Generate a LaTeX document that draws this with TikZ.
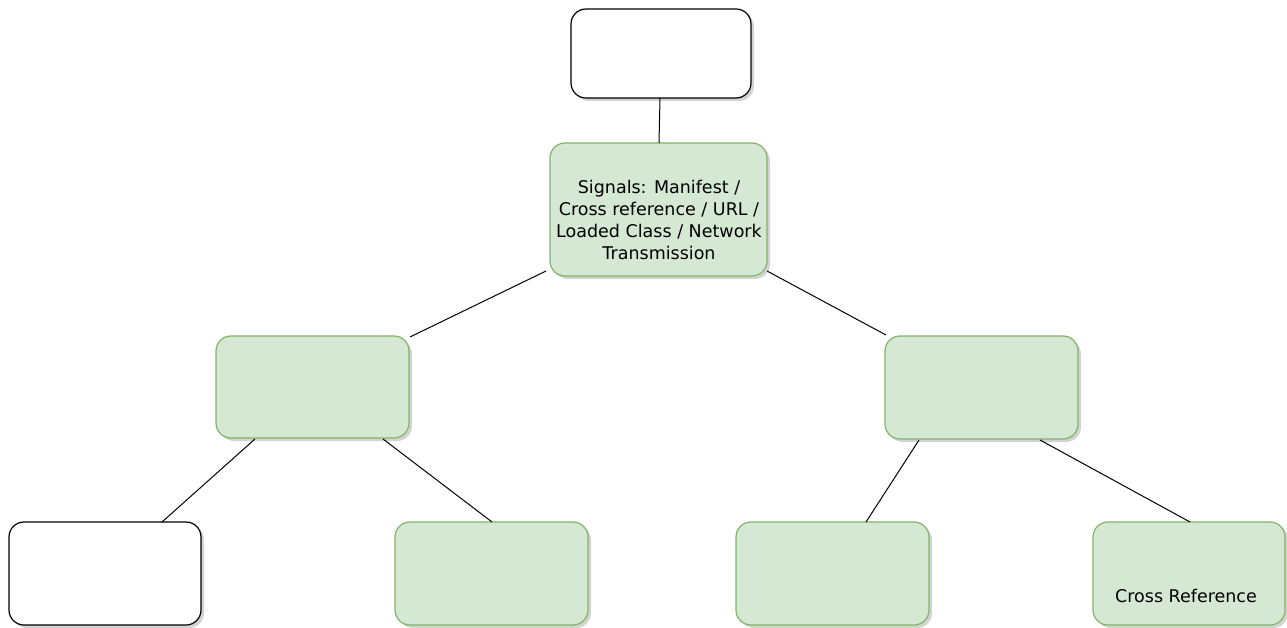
\documentclass[tikz,border=0pt]{standalone}
\usepackage{fontspec}
\setmainfont{DejaVu Sans}
\usetikzlibrary{shadows}
\definecolor{gfill}{HTML}{D5E8D4}
\definecolor{gline}{HTML}{82B366}
\begin{document}
\begin{tikzpicture}[x=1pt,y=-1pt,
  box/.style={rounded corners=15pt,line width=1.2pt,drop shadow={shadow xshift=3pt,shadow yshift=-3pt,opacity=0.35,fill=black!50}},
  wbox/.style={box,draw=black,fill=white},
  gbox/.style={box,draw=gline,fill=gfill},
  conn/.style={line width=1pt,black},
  lbl/.style={font=\fontsize{17.5pt}{22.3pt}\selectfont,align=center,inner sep=0pt}]
\useasboundingbox (0,0) rectangle (1287,628);
\draw[wbox] (571,9) rectangle (751,98);
\draw[gbox] (550,143) rectangle (767,276);
\draw[gbox] (216,336) rectangle (409,438);
\draw[gbox] (885,336) rectangle (1078,439);
\draw[wbox] (9,522) rectangle (201,625);
\draw[gbox] (395,522) rectangle (588,625);
\draw[gbox] (736,522) rectangle (929,625);
\draw[gbox] (1093,522) rectangle (1285,625);
\coordinate (t) at (660,98); \coordinate (cT) at (659,143);
\coordinate (cL) at (546,271); \coordinate (lT) at (410,337);
\coordinate (cR) at (767,271); \coordinate (rT) at (886,335);
\coordinate (lB1) at (255,439); \coordinate (b1) at (162,522);
\coordinate (lB2) at (383,439); \coordinate (b2) at (492,522);
\coordinate (rB1) at (919,440); \coordinate (b3) at (866,522);
\coordinate (rB2) at (1040,440); \coordinate (b4) at (1190,522);
\draw[conn] (t) -- (cT);
\draw[conn] (cL) -- (lT);
\draw[conn] (cR) -- (rT);
\draw[conn] (lB1) -- (b1);
\draw[conn] (lB2) -- (b2);
\draw[conn] (rB1) -- (b3);
\draw[conn] (rB2) -- (b4);
\node[lbl] (ctext) at (659,220) {Signals: Manifest /\\Cross reference / URL /\\Loaded Class / Network\\Transmission};
\node[lbl] (crtext) at (1186,596) {Cross Reference};
\end{tikzpicture}
\end{document}
